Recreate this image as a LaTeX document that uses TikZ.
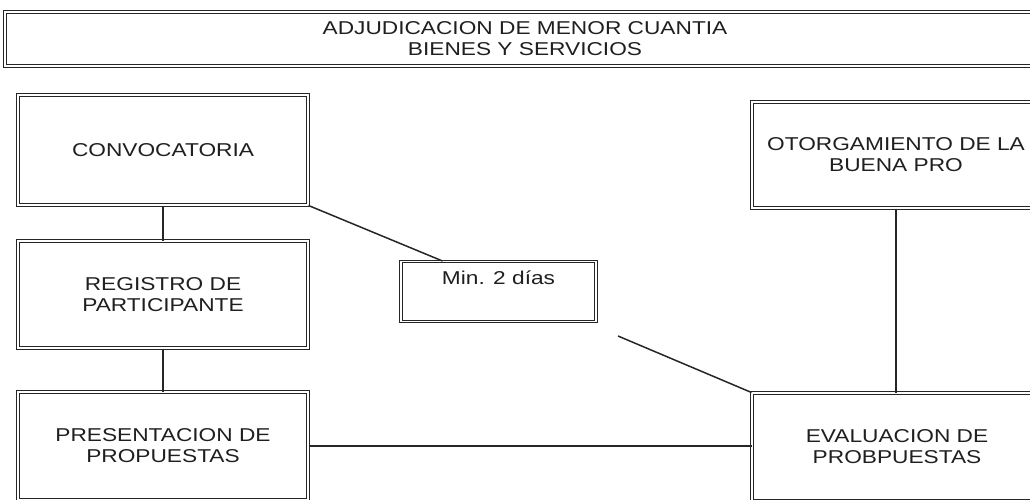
\documentclass[tikz,border=0pt]{standalone}
\usepackage{fontspec}
\setmainfont{Liberation Sans}[FakeStretch=1.22]
\usetikzlibrary{calc}
\begin{document}
\begin{tikzpicture}[x=1pt,y=-1pt,
  dbox/.style={draw=black!85, line width=1pt, double=white, double distance=1.6pt,
    align=center, inner sep=0pt, font=\fontsize{18.6}{21}\selectfont, text=black!88},
  conn/.style={draw=black!85, line width=1.5pt}]
\useasboundingbox (0,0) rectangle (1030,500);
\clip (0,0) rectangle (1030,500);
\node[dbox, minimum width=1040pt, minimum height=54pt] (title) at (525,39)
  {ADJUDICACION DE MENOR CUANTIA\\BIENES Y SERVICIOS};
\node[dbox, minimum width=290pt, minimum height=110pt] (conv) at (163,150) {CONVOCATORIA};
\node[dbox, minimum width=290pt, minimum height=107pt] (reg) at (163,294.5) {REGISTRO DE\\PARTICIPANTE};
\node[dbox, minimum width=290pt, minimum height=108pt] (pres) at (163,446) {PRESENTACION DE\\PROPUESTAS};
\node[dbox, minimum width=195pt, minimum height=56pt, anchor=north, inner ysep=4pt,
  text height=19pt, text depth=33pt] (min) at (498.5,261) {Min. 2 días};
\node[dbox, minimum width=288pt, minimum height=106pt] (otorg) at (896,155) {OTORGAMIENTO DE LA\\BUENA PRO};
\node[dbox, minimum width=290pt, minimum height=108pt] (eval) at (897,447) {EVALUACION DE\\PROBPUESTAS};
\coordinate (mt) at ($(min.north west)+(42,0)$);
\coordinate (mfree) at (618,336);
\draw[conn] (conv.south) -- (reg.north);
\draw[conn] (reg.south) -- (pres.north);
\draw[conn] (conv.south east) -- (mt);
\draw[conn] (mfree) -- (eval.north west);
\draw[conn] (pres.east) -- (pres.east -| eval.west);
\draw[conn] (otorg.south) -- (otorg.south |- eval.north);
\end{tikzpicture}
\end{document}
